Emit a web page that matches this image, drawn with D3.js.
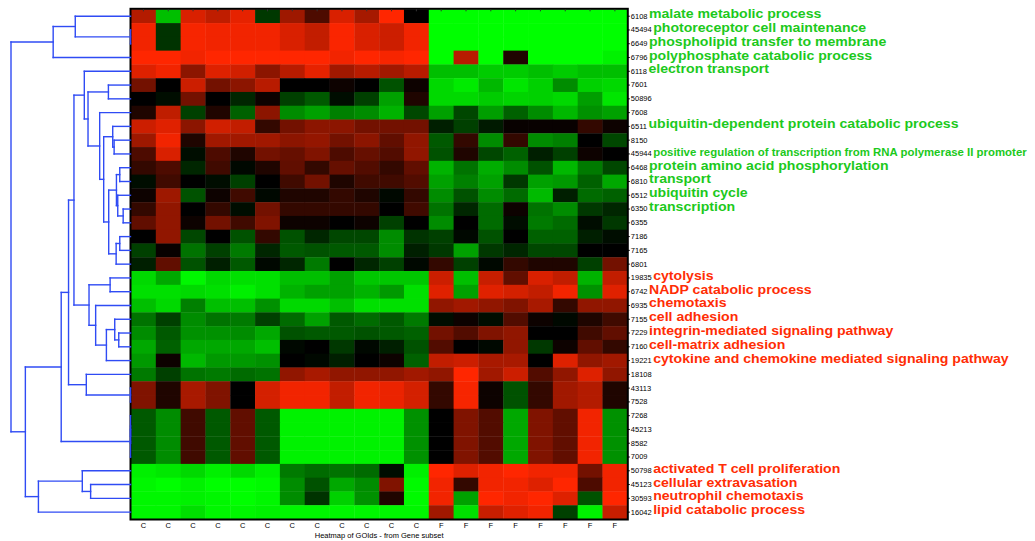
<!DOCTYPE html>
<html>
<head>
<meta charset="utf-8">
<script src="https://cdn.jsdelivr.net/npm/d3@7"></script>
<style>
  html, body { margin: 0; padding: 0; background: #fff; }
  svg { display: block; font-family: "Liberation Sans", Arial, sans-serif; }
</style>
</head>
<body>
<svg id="chart" width="1035" height="541"></svg>
<script>
// Sample columns (12 control, 8 treated)
const sampleLabels = ["C","C","C","C","C","C","C","C","C","C","C","C","F","F","F","F","F","F","F","F"];

// GO ids, top to bottom in cluster order
const rowIds = [
  "6108","45494","6649","6796","6118","7601","50896","7608","6511","8150",
  "45944","6468","6810","6512","6350","6355","7186","7165","6801","19835",
  "6742","6935","7155","7229","7160","19221","18108","43113","7528","7268",
  "45213","8582","7009","50798","45123","30593","16042"
];

// GO term names (blank where none is shown)
const rowTerms = [
  "malate metabolic process","photoreceptor cell maintenance","phospholipid transfer to membrane",
  "polyphosphate catabolic process","electron transport","","","",
  "ubiquitin-dependent protein catabolic process","",
  "positive regulation of transcription from RNA polymerase II promoter",
  "protein amino acid phosphorylation","transport","ubiquitin cycle","transcription",
  "","","","",
  "cytolysis","NADP catabolic process","chemotaxis","cell adhesion",
  "integrin-mediated signaling pathway","cell-matrix adhesion",
  "cytokine and chemokine mediated signaling pathway","","","","","","","",
  "activated T cell proliferation","cellular extravasation","neutrophil chemotaxis","lipid catabolic process"
];

// Which group each named term is higher in (sets its colour)
const termGroups = [
  "C","C","C","C","C","C","C","C","C","C","C","C","C","C","C","C","C","C","C",
  "F","F","F","F","F","F","F","F","F","F","F","F","F","F","F","F","F","F"
];

// Scaled expression, -1 (low) .. +1 (high), one array per GO id
const expression = [
  [0.70,-0.75,0.85,0.75,0.90,-0.22,0.62,0.30,0.85,0.65,1.00,0.00,-1,-1,-1,-1,-1,-1,-1,-1],
  [0.95,-0.20,0.97,0.95,0.95,0.95,0.85,0.76,0.98,0.85,0.80,0.95,-1,-1,-1,-1,-1,-1,-1,-1],
  [0.95,-0.20,0.97,0.95,0.95,0.95,0.85,0.76,0.98,0.85,0.80,0.95,-1,-1,-1,-1,-1,-1,-1,-1],
  [1.00,1.00,0.95,1.00,1.00,1.00,1.00,1.00,0.95,1.00,0.97,1.00,-1,0.72,-1,0.12,-1,-1,-1,-0.95],
  [0.87,0.95,0.55,0.87,0.82,0.55,0.72,0.90,0.63,0.72,0.63,0.72,-0.75,-0.75,-0.80,-0.80,-0.75,-0.80,-0.75,-0.75],
  [0.45,0.00,0.80,0.45,0.55,0.72,0.00,0.00,0.05,0.00,-0.32,0.05,-0.85,-0.92,-0.72,-0.90,-0.82,-0.55,-0.82,-0.85],
  [0.00,-0.05,0.45,0.00,-0.15,0.05,-0.25,-0.35,-0.05,-0.25,-0.63,0.12,-0.85,-0.85,-0.80,-0.83,-0.82,-0.85,-0.62,-0.90],
  [0.12,0.75,-0.25,0.12,-0.38,0.55,-0.55,-0.63,-0.50,-0.55,-0.70,-0.28,-0.63,-0.28,-0.62,-0.38,-0.55,-0.72,-0.57,-0.63],
  [0.80,0.88,0.55,0.82,0.76,0.20,0.45,0.55,0.55,0.45,0.45,0.45,-0.12,-0.25,-0.10,0.03,0.03,0.03,0.20,0.05],
  [0.62,0.95,0.12,0.63,0.63,0.63,0.55,0.58,0.45,0.55,0.38,0.57,-0.35,0.20,-0.55,0.20,-0.55,-0.50,0.00,-0.28],
  [0.30,0.85,-0.05,0.30,0.12,0.45,0.40,0.50,0.30,0.40,0.32,0.57,-0.32,0.12,-0.28,-0.38,-0.12,-0.25,0.05,0.00],
  [0.20,0.30,-0.15,0.25,-0.03,0.12,0.38,0.20,0.40,0.32,0.20,0.38,-0.70,-0.45,-0.68,-0.55,-0.32,-0.72,-0.48,-0.28],
  [-0.05,0.25,0.00,-0.05,-0.25,0.00,0.25,0.45,0.12,0.25,0.25,0.32,-0.63,-0.50,-0.63,-0.22,-0.63,-0.60,-0.38,-0.66],
  [0.05,0.62,-0.32,0.05,0.25,-0.03,0.12,0.12,0.20,0.12,-0.03,0.20,-0.55,-0.32,-0.55,-0.42,-0.73,-0.12,-0.42,-0.38],
  [0.20,0.57,0.00,0.20,-0.05,0.45,0.20,0.20,0.20,0.20,0.00,0.25,-0.45,-0.15,-0.42,0.05,-0.45,-0.55,-0.22,-0.15],
  [0.38,0.57,0.05,0.45,0.25,0.50,0.05,0.05,0.00,0.05,-0.25,0.00,-0.55,0.00,-0.42,-0.05,-0.48,-0.42,-0.05,-0.22],
  [0.00,0.57,-0.28,0.00,-0.32,0.20,-0.32,-0.15,-0.28,-0.28,-0.55,-0.20,-0.25,-0.03,-0.32,0.00,-0.38,-0.38,-0.12,-0.05],
  [-0.25,0.03,-0.45,-0.25,-0.48,-0.15,-0.35,-0.32,-0.35,-0.35,-0.55,-0.12,-0.22,-0.63,-0.22,-0.15,-0.28,-0.28,0.00,0.00],
  [-0.12,0.38,-0.32,-0.12,-0.35,-0.03,-0.15,-0.48,0.00,-0.15,-0.25,-0.03,0.20,-0.25,-0.03,0.20,0.12,0.12,-0.25,0.45],
  [-0.85,-0.66,-0.97,-0.85,-0.88,-0.88,-0.75,-0.75,-0.63,-0.78,-0.78,-0.78,0.80,-0.75,0.78,0.38,0.85,0.76,-0.70,0.76],
  [-0.88,-0.88,-0.85,-0.88,-0.94,-0.88,-0.70,-0.63,-0.63,-0.70,-0.60,-0.88,0.88,-0.63,0.88,0.83,0.76,0.95,-0.57,0.88],
  [-0.75,-0.85,-0.50,-0.75,-0.75,-0.57,-0.85,-0.85,-0.75,-0.88,-0.88,-0.88,0.57,0.63,0.57,0.50,0.66,0.20,0.57,0.57],
  [-0.45,-0.25,-0.55,-0.45,-0.48,-0.25,-0.42,-0.63,-0.35,-0.42,-0.35,-0.48,-0.05,0.05,-0.05,0.32,0.05,-0.03,0.12,0.25],
  [-0.55,-0.35,-0.57,-0.57,-0.55,-0.66,-0.32,-0.35,-0.35,-0.32,-0.35,-0.38,0.45,0.32,0.50,0.57,0.00,0.00,0.25,0.38],
  [-0.66,-0.38,-0.66,-0.66,-0.66,-0.75,-0.03,0.00,-0.22,-0.03,-0.12,-0.32,0.32,0.00,-0.03,0.57,-0.22,0.05,0.38,0.20],
  [-0.60,0.05,-0.72,-0.60,-0.60,-0.57,0.00,-0.03,-0.12,0.00,0.05,-0.38,0.76,0.80,0.66,0.66,0.00,0.87,0.57,0.63],
  [-0.48,-0.25,-0.45,-0.48,-0.42,-0.45,0.57,0.66,0.57,0.57,0.57,0.63,0.57,1.00,0.63,0.80,0.32,0.57,0.87,0.57],
  [0.50,0.12,0.66,0.50,0.00,0.83,0.95,0.95,0.76,0.95,0.92,0.83,0.20,0.97,0.05,-0.32,0.20,0.63,0.70,0.12],
  [0.50,0.12,0.66,0.50,0.00,0.83,0.95,0.95,0.76,0.95,0.92,0.83,0.20,0.97,0.05,-0.32,0.20,0.63,0.70,0.12],
  [-0.35,-0.55,0.25,-0.35,0.38,-0.35,-0.95,-0.95,-0.95,-0.95,-0.95,-0.57,0.00,0.50,0.32,-0.66,0.50,0.38,0.95,-0.57],
  [-0.35,-0.55,0.25,-0.35,0.38,-0.35,-0.95,-0.95,-0.95,-0.95,-0.95,-0.57,0.00,0.50,0.32,-0.66,0.50,0.38,0.95,-0.57],
  [-0.35,-0.55,0.25,-0.35,0.38,-0.35,-0.95,-0.95,-0.95,-0.95,-0.95,-0.57,0.00,0.50,0.32,-0.66,0.50,0.38,0.95,-0.57],
  [-0.35,-0.55,0.25,-0.35,0.38,-0.35,-0.95,-0.95,-0.95,-0.95,-0.95,-0.57,0.00,0.50,0.32,-0.66,0.50,0.38,0.95,-0.57],
  [-0.94,-0.91,-0.85,-0.94,-0.85,-0.94,-0.48,-0.42,-0.45,-0.42,-0.05,-0.94,1.00,0.87,0.95,1.00,0.95,0.95,0.45,0.95],
  [-0.97,-1.00,-0.95,-1.00,-1.00,-0.98,-0.55,-0.32,-0.66,-0.55,0.50,-0.98,0.95,0.20,0.95,0.95,0.87,1.00,0.30,0.95],
  [-0.97,-0.97,-0.95,-0.97,-1.00,-0.97,-0.55,-0.20,-0.82,-0.57,0.12,-0.98,0.95,-0.63,1.00,0.95,1.00,0.87,-0.32,1.00],
  [-0.97,-0.97,-0.88,-0.97,-0.97,-0.95,-0.97,-0.97,-0.97,-0.97,-0.97,-0.97,0.63,-0.88,0.78,0.88,0.95,-0.25,-0.94,0.78]
];

// Row clustering, hclust style: negative = row (-1 is the first row), positive = earlier merge
const mergePairs = [
  [-2,-3],[-28,-29],[-31,-32],[-30,3],[4,-33],
  [-10,-11],[-9,6],[-6,-7],[-15,-16],[-14,9],
  [-12,-13],[11,10],[-17,-18],[13,-19],[12,14],
  [7,15],[-8,16],[8,17],[-5,18],[-24,-25],
  [-23,20],[21,-26],[-22,22],[-20,-21],[24,23],
  [19,25],[-27,2],[26,27],[28,5],[-35,-36],
  [-34,30],[31,-37],[29,32],[-1,1],[34,-4],
  [35,33]
];
const mergeHeights = [
  0,0,0,0,0,
  0.163,0.177,0.22,0.073,0.127,
  0.107,0.14,0.107,0.143,0.217,
  0.267,0.307,0.423,0.46,0.117,
  0.157,0.24,0.347,0.203,0.413,
  0.563,0.44,0.617,0.69,0.397,
  0.48,0.917,1.047,0.55,0.77,
  1.19
];

const svg = d3.select("#chart");

const heat = { left: 131, right: 627.3, top: 9.3, bottom: 519 };

const x = d3.scaleBand().domain(d3.range(sampleLabels.length)).range([heat.left, heat.right]);
const y = d3.scaleBand().domain(rowIds).range([heat.top, heat.bottom]);
const colour = d3.scaleLinear().domain([-1, 0, 1]).range(["#00ff00", "#000000", "#ff2600"]);

// Heatmap cells
const cells = [];
expression.forEach((row, r) => row.forEach((v, c) => cells.push({ r, c, v })));
svg.append("g").selectAll("rect").data(cells).join("rect")
  .attr("x", d => x(d.c))
  .attr("y", d => y(rowIds[d.r]))
  .attr("width", x.bandwidth() + 0.4)
  .attr("height", y.bandwidth() + 0.4)
  .attr("fill", d => colour(d.v));

// Frame
svg.append("rect")
  .attr("x", heat.left - 0.5).attr("y", heat.top - 0.5)
  .attr("width", heat.right - heat.left + 1).attr("height", heat.bottom - heat.top + 1)
  .attr("fill", "none").attr("stroke", "#000").attr("stroke-width", 2);

// Column ticks along the top edge
svg.append("g").selectAll("line").data(d3.range(sampleLabels.length)).join("line")
  .attr("x1", d => x(d) + x.bandwidth() / 2).attr("x2", d => x(d) + x.bandwidth() / 2)
  .attr("y1", heat.top).attr("y2", heat.top + 2)
  .attr("stroke", "#333").attr("stroke-width", 1);

// Sample labels
const xAxis = svg.append("g")
  .attr("transform", `translate(0,${heat.bottom + 1})`)
  .call(d3.axisBottom(x).tickSize(0).tickPadding(3).tickFormat(i => sampleLabels[i]));
xAxis.select(".domain").remove();
xAxis.selectAll("text").attr("font-size", 7.5).attr("font-family", "Liberation Sans, Arial, sans-serif").attr("fill", "#000");

svg.append("text")
  .attr("x", (heat.left + heat.right) / 2).attr("y", 538)
  .attr("text-anchor", "middle").attr("font-size", 7.5).attr("fill", "#000")
  .text("Heatmap of GOIds - from Gene subset");

// GO id labels on the right
const yAxis = svg.append("g")
  .attr("transform", `translate(${heat.right + 0.5},0)`)
  .call(d3.axisRight(y).tickSize(2).tickPadding(1));
yAxis.select(".domain").remove();
yAxis.selectAll("line").attr("stroke", "#000");
yAxis.selectAll("text")
  .attr("font-size", 7.5).attr("font-family", "Liberation Sans, Arial, sans-serif")
  .attr("fill", "#000").attr("dy", "0.32em");

// GO term names, placed just after each id; the bold face is drawn slightly widened
const idWidth = {};
yAxis.selectAll(".tick text").each(function(d) { idWidth[d] = this.getComputedTextLength(); });
const isLong = i => rowTerms[i].length > 55;
const widen = 1.12;
svg.append("g").selectAll("text").data(rowIds.map((id, i) => ({ id, i })).filter(d => rowTerms[d.i]))
  .join("text")
  .attr("transform", d => {
    const tx = heat.right + 3.5 + idWidth[d.id] + 1.5;
    const ty = y(d.id) + y.bandwidth() / 2 + 2;
    return `translate(${tx},${ty}) scale(${widen},1)`;
  })
  .attr("font-size", d => isLong(d.i) ? 10.2 : 12.6)
  .attr("font-weight", "bold")
  .attr("fill", d => termGroups[d.i] === "C" ? "#1cc91c" : "#ff2d05")
  .text(d => rowTerms[d.i]);

// Dendrogram
const hx = d3.scaleLinear().domain([0, 1.19]).range([heat.left - 0.5, 11]);
const nodeY = [], nodeH = [];
function pos(k) {
  if (k < 0) { const id = rowIds[-k - 1]; return { y: y(id) + y.bandwidth() / 2, h: 0 }; }
  return { y: nodeY[k - 1], h: nodeH[k - 1] };
}
const segs = [];
mergePairs.forEach(([a, b], i) => {
  const pa = pos(a), pb = pos(b), h = mergeHeights[i];
  segs.push([hx(h), pa.y, hx(h), pb.y]);
  segs.push([hx(h), pa.y, hx(pa.h), pa.y]);
  segs.push([hx(h), pb.y, hx(pb.h), pb.y]);
  nodeY.push((pa.y + pb.y) / 2);
  nodeH.push(h);
});
svg.append("g").selectAll("line").data(segs).join("line")
  .attr("x1", d => d[0]).attr("y1", d => d[1])
  .attr("x2", d => d[2]).attr("y2", d => d[3])
  .attr("stroke", "#2f4bf4").attr("stroke-width", 1.4).attr("stroke-linecap", "square");
</script>
</body>
</html>
